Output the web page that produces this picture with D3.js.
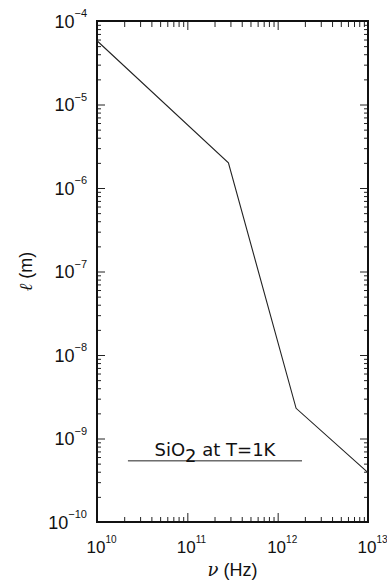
<!DOCTYPE html>
<html>
<head>
<meta charset="utf-8">
<script src="https://cdn.jsdelivr.net/npm/d3@7"></script>
<style>
  body { margin: 0; background: #fff; }
  svg { display: block; font-family: "Liberation Sans", Arial, sans-serif; }
</style>
</head>
<body>
<svg id="chart" width="387" height="580"></svg>
<script>
// frequency (Hz) and phonon mean free path (m)
var nu = [1e10, 2.85e11, 1.6e12, 1e13];
var ell = [5.8e-5, 2.0e-6, 2.3e-9, 3.9e-10];

var xExp = [10, 11, 12, 13];
var yExp = [-4, -5, -6, -7, -8, -9, -10];

// label line under "SiO2 at T=1K"
var noteX = [2.2e10, 1.86e12];
var noteY = 5.4e-10;

var pLeft = 97, pRight = 368, pTop = 21, pBottom = 522;

var svg = d3.select("#chart");

var x = d3.scaleLog().domain([1e10, 1e13]).range([pLeft, pRight]);
var y = d3.scaleLog().domain([1e-10, 1e-4]).range([pBottom, pTop]);

function minors(e0, e1) {
    var out = [];
    for (var e = e0; e < e1; e++)
        for (var m = 2; m <= 9; m++) out.push(m * Math.pow(10, e));
    return out;
}
var xMajor = xExp.map(function(e) { return Math.pow(10, e); }),
    yMajor = yExp.map(function(e) { return Math.pow(10, e); }),
    xMinor = minors(10, 13),
    yMinor = minors(-10, -4);

function drawAxis(axisFn, scale, major, minor, tx, ty, bigLen, smallLen) {
    var g1 = svg.append("g").attr("transform", "translate(" + tx + "," + ty + ")")
        .call(axisFn(scale).tickValues(major).tickSize(-bigLen).tickFormat(""));
    var g2 = svg.append("g").attr("transform", "translate(" + tx + "," + ty + ")")
        .call(axisFn(scale).tickValues(minor).tickSize(-smallLen).tickFormat(""));
    [g1, g2].forEach(function(g) {
        g.select(".domain").remove();
        g.selectAll(".tick text").remove();
        g.selectAll(".tick line").attr("stroke", "#222").attr("stroke-width", 1);
    });
}

drawAxis(d3.axisBottom, x, xMajor, xMinor, 0, pBottom, 9, 5);
drawAxis(d3.axisTop, x, xMajor, xMinor, 0, pTop, 9, 6);
drawAxis(d3.axisLeft, y, yMajor, yMinor, pLeft, 0, 8, 4);
drawAxis(d3.axisRight, y, yMajor, yMinor, pRight, 0, 8, 4);

// frame
svg.append("rect")
    .attr("x", pLeft).attr("y", pTop)
    .attr("width", pRight - pLeft).attr("height", pBottom - pTop)
    .attr("fill", "none").attr("stroke", "#111").attr("stroke-width", 2);

// data line
var line = d3.line()
    .x(function(d, i) { return x(nu[i]); })
    .y(function(d, i) { return y(ell[i]); });

svg.append("path")
    .datum(nu)
    .attr("d", line)
    .attr("fill", "none")
    .attr("stroke", "#222")
    .attr("stroke-width", 1.1);

// y tick labels
yExp.forEach(function(e) {
    var t = svg.append("text")
        .attr("x", pLeft - 10)
        .attr("y", y(Math.pow(10, e)) + 6.5)
        .attr("text-anchor", "end")
        .attr("font-size", 18)
        .attr("fill", "#111");
    t.append("tspan").text("10");
    t.append("tspan").attr("font-size", 11).attr("dy", -10.5).text("\u2212" + (-e));
});

// x tick labels
xExp.forEach(function(e) {
    var t = svg.append("text")
        .attr("x", x(Math.pow(10, e)) - 10.5)
        .attr("y", 553)
        .attr("font-size", 17)
        .attr("fill", "#111");
    t.append("tspan").text("10");
    t.append("tspan").attr("font-size", 10).attr("dy", -10).text(e);
});

// axis titles
var xt = svg.append("text")
    .attr("x", (pLeft + pRight) / 2)
    .attr("y", 576)
    .attr("text-anchor", "middle")
    .attr("font-size", 18)
    .attr("fill", "#111");
xt.append("tspan").attr("font-style", "italic").attr("font-family", "DejaVu Serif").text("\u03bd");
xt.append("tspan").text(" (Hz)");

var yt = svg.append("text")
    .attr("transform", "translate(32," + (pTop + pBottom) / 2 + ") rotate(-90)")
    .attr("text-anchor", "middle")
    .attr("font-size", 18)
    .attr("fill", "#111");
yt.append("tspan").attr("font-style", "italic").attr("font-family", "DejaVu Serif").text("\u2113");
yt.append("tspan").text(" (m)");

// annotation
svg.append("line")
    .attr("x1", x(noteX[0])).attr("x2", x(noteX[1]))
    .attr("y1", y(noteY)).attr("y2", y(noteY))
    .attr("stroke", "#222").attr("stroke-width", 1);

var note = svg.append("text")
    .attr("x", (x(noteX[0]) + x(noteX[1])) / 2)
    .attr("y", y(noteY) - 5)
    .attr("text-anchor", "middle")
    .attr("font-family", "DejaVu Sans")
    .attr("font-size", 18)
    .attr("fill", "#111");
note.append("tspan").text("SiO");
note.append("tspan").attr("dy", 6).text("2");
note.append("tspan").attr("dy", -6).text(" at T=1K");
</script>
</body>
</html>
